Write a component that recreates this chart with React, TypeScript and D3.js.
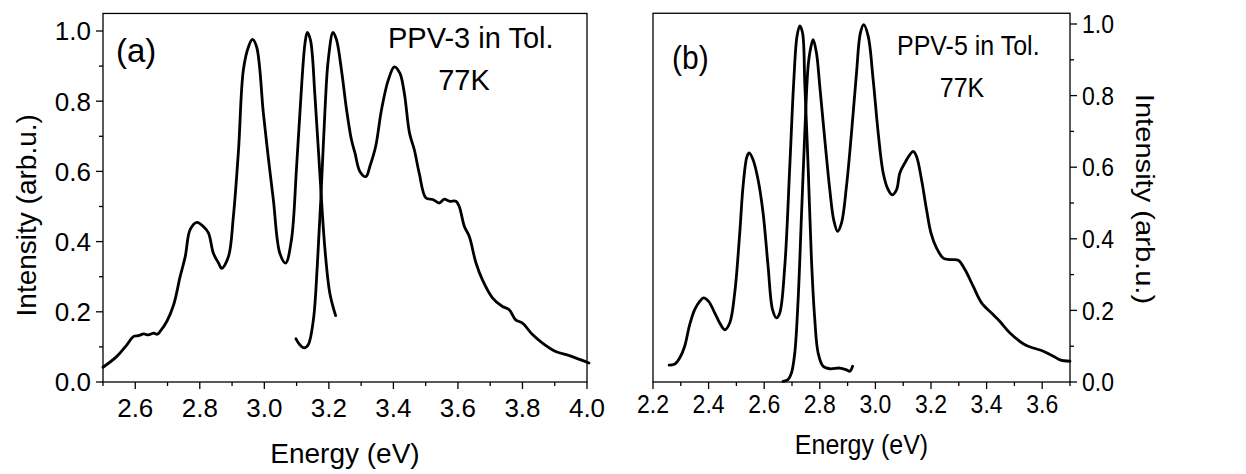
import React from "react";
import * as d3 from "d3";

// ---------- Panel (a): PPV-3 in Tol., 77K ----------
const a1Energy = [2.5, 2.543, 2.574, 2.595, 2.61, 2.626, 2.64, 2.657, 2.668, 2.677, 2.698, 2.719, 2.739, 2.755, 2.77, 2.791, 2.811, 2.827, 2.842, 2.858, 2.868, 2.889, 2.904, 2.92, 2.935, 2.951, 2.963, 2.976, 2.997, 3.012, 3.028, 3.048, 3.066, 3.084, 3.1, 3.116, 3.126, 3.133, 3.143, 3.157, 3.172, 3.188, 3.203, 3.221];
const a1Intensity = [0.042, 0.073, 0.106, 0.13, 0.132, 0.137, 0.134, 0.139, 0.136, 0.144, 0.173, 0.22, 0.3, 0.358, 0.434, 0.455, 0.443, 0.424, 0.367, 0.339, 0.324, 0.358, 0.471, 0.661, 0.889, 0.955, 0.976, 0.955, 0.766, 0.642, 0.519, 0.367, 0.339, 0.405, 0.614, 0.851, 0.965, 0.996, 0.974, 0.813, 0.595, 0.377, 0.253, 0.189];

const a2Energy = [3.098, 3.11, 3.123, 3.136, 3.152, 3.164, 3.175, 3.188, 3.198, 3.213, 3.224, 3.239, 3.255, 3.27, 3.281, 3.296, 3.315, 3.327, 3.345, 3.363, 3.384, 3.403, 3.42, 3.434, 3.45, 3.465, 3.48, 3.501, 3.522, 3.542, 3.558, 3.573, 3.594, 3.604, 3.62, 3.635, 3.656, 3.676, 3.707, 3.738, 3.759, 3.779, 3.8, 3.831, 3.862, 3.903, 3.945, 3.981, 4.006];
const a2Intensity = [0.123, 0.106, 0.097, 0.106, 0.177, 0.329, 0.519, 0.775, 0.917, 0.996, 0.974, 0.889, 0.775, 0.69, 0.652, 0.6, 0.585, 0.614, 0.671, 0.775, 0.86, 0.898, 0.88, 0.822, 0.709, 0.661, 0.595, 0.524, 0.52, 0.51, 0.521, 0.515, 0.515, 0.5, 0.443, 0.415, 0.339, 0.291, 0.24, 0.215, 0.206, 0.177, 0.168, 0.135, 0.111, 0.087, 0.075, 0.063, 0.054];

// ---------- Panel (b): PPV-5 in Tol., 77K ----------
const b1Energy = [2.258, 2.278, 2.296, 2.314, 2.332, 2.35, 2.368, 2.382, 2.4, 2.422, 2.44, 2.458, 2.476, 2.494, 2.512, 2.524, 2.538, 2.546, 2.56, 2.578, 2.596, 2.614, 2.63, 2.644, 2.656, 2.674, 2.692, 2.706, 2.718, 2.728, 2.738, 2.746, 2.758, 2.77, 2.782, 2.794, 2.812, 2.836, 2.872, 2.896, 2.908, 2.918];
const b1Intensity = [0.047, 0.05, 0.067, 0.1, 0.16, 0.202, 0.225, 0.235, 0.225, 0.193, 0.165, 0.146, 0.165, 0.249, 0.416, 0.547, 0.63, 0.64, 0.621, 0.565, 0.472, 0.323, 0.202, 0.179, 0.193, 0.323, 0.602, 0.835, 0.966, 0.995, 0.975, 0.835, 0.602, 0.342, 0.174, 0.081, 0.044, 0.037, 0.039, 0.034, 0.03, 0.044];

const b2Energy = [2.668, 2.686, 2.698, 2.71, 2.722, 2.734, 2.746, 2.758, 2.766, 2.776, 2.788, 2.8, 2.818, 2.836, 2.85, 2.864, 2.878, 2.896, 2.914, 2.932, 2.946, 2.958, 2.974, 2.992, 3.01, 3.028, 3.046, 3.06, 3.076, 3.088, 3.106, 3.124, 3.136, 3.148, 3.166, 3.184, 3.2, 3.22, 3.244, 3.268, 3.298, 3.322, 3.352, 3.382, 3.424, 3.448, 3.484, 3.538, 3.568, 3.604, 3.64, 3.664, 3.7];
const b2Intensity = [0.002, 0.007, 0.025, 0.081, 0.23, 0.463, 0.696, 0.882, 0.928, 0.956, 0.919, 0.826, 0.677, 0.537, 0.453, 0.421, 0.444, 0.547, 0.696, 0.863, 0.975, 0.998, 0.966, 0.844, 0.696, 0.584, 0.537, 0.523, 0.537, 0.584, 0.612, 0.635, 0.644, 0.63, 0.565, 0.481, 0.416, 0.374, 0.346, 0.342, 0.34, 0.314, 0.267, 0.221, 0.188, 0.169, 0.137, 0.104, 0.095, 0.086, 0.072, 0.062, 0.058];

// ---------- Ticks & labels ----------
const aXTicks = [2.6, 2.8, 3.0, 3.2, 3.4, 3.6, 3.8, 4.0];
const aXMinor = [2.5, 2.7, 2.9, 3.1, 3.3, 3.5, 3.7, 3.9];
const bXTicks = [2.2, 2.4, 2.6, 2.8, 3.0, 3.2, 3.4, 3.6];
const bXMinor = [2.3, 2.5, 2.7, 2.9, 3.1, 3.3, 3.5, 3.7];
const yTicks = [0, 0.2, 0.4, 0.6, 0.8, 1.0];
const yMinor = [0.1, 0.3, 0.5, 0.7, 0.9];

const xTitle = "Energy (eV)";
const yTitle = "Intensity (arb.u.)";
const aLabel = "(a)";
const bLabel = "(b)";
const aSample = ["PPV-3 in Tol.", "77K"];
const bSample = ["PPV-5 in Tol.", "77K"];

const FONT = "'Liberation Sans', Arial, sans-serif";

function makeLine(x: d3.ScaleLinear<number, number>, y: d3.ScaleLinear<number, number>, E: number[]) {
  return d3
    .line<number>()
    .x((_, i) => x(E[i]))
    .y((d) => y(d))
    .curve(d3.curveCatmullRom.alpha(0.5));
}

export default function App() {
  // panel a scales
  const xA = d3.scaleLinear().domain([2.5, 4.0]).range([103, 587]);
  const yA = d3.scaleLinear().domain([0, 1]).range([382, 31]);
  const topA = yA(1.05);
  // panel b scales
  const xB = d3.scaleLinear().domain([2.2, 3.7]).range([653, 1070]);
  const yB = d3.scaleLinear().domain([0, 1]).range([382, 24]);
  const topB = yB(1.03);

  const lw = 2.8;
  const fmt = d3.format(".1f");
  const sb = 1.12; // vertical stretch of panel b text

  return (
    <svg width={1246} height={474} style={{ display: "block", position: "absolute", left: 0, top: 0, background: "#fff" }} fontFamily={FONT}>
      {/* ---------- Panel A ---------- */}
      <g>
        <rect x={xA(2.5)} y={topA} width={xA(4.0) - xA(2.5)} height={yA(0) - topA} fill="none" stroke="#000" strokeWidth={1.3} />
        {aXTicks.map((t) => (
          <g key={"axt" + t}>
            <line x1={xA(t)} x2={xA(t)} y1={yA(0)} y2={yA(0) + 7} stroke="#000" strokeWidth={1.3} />
            <text x={xA(t)} y={417} fontSize={26} textAnchor="middle" fill="#000">{fmt(t)}</text>
          </g>
        ))}
        {aXMinor.map((t) => (
          <line key={"axm" + t} x1={xA(t)} x2={xA(t)} y1={yA(0)} y2={yA(0) + 4} stroke="#000" strokeWidth={1.3} />
        ))}
        {yTicks.map((t) => (
          <g key={"ayt" + t}>
            <line x1={xA(2.5) - 7} x2={xA(2.5)} y1={yA(t)} y2={yA(t)} stroke="#000" strokeWidth={1.3} />
            <text x={91} y={yA(t)} dy="0.36em" fontSize={26} textAnchor="end" fill="#000">{fmt(t)}</text>
          </g>
        ))}
        {yMinor.map((t) => (
          <line key={"aym" + t} x1={xA(2.5) - 4} x2={xA(2.5)} y1={yA(t)} y2={yA(t)} stroke="#000" strokeWidth={1.3} />
        ))}
        <text x={(xA(2.5) + xA(4.0)) / 2} y={463} fontSize={28} textAnchor="middle" fill="#000">{xTitle}</text>
        <text transform={`translate(36,${yA(0.475)}) rotate(-90)`} fontSize={28} textAnchor="middle" fill="#000">{yTitle}</text>
        <path d={makeLine(xA, yA, a1Energy)(a1Intensity) || ""} fill="none" stroke="#000" strokeWidth={lw} strokeLinejoin="round" strokeLinecap="round" />
        <path d={makeLine(xA, yA, a2Energy)(a2Intensity) || ""} fill="none" stroke="#000" strokeWidth={lw} strokeLinejoin="round" strokeLinecap="round" />
        <text x={116} y={62} fontSize={33} fill="#000">{aLabel}</text>
        <text x={388} y={48} fontSize={29} fill="#000">{aSample[0]}</text>
        <text x={464} y={90} fontSize={29} textAnchor="middle" fill="#000">{aSample[1]}</text>
      </g>

      {/* ---------- Panel B ---------- */}
      <g>
        <rect x={xB(2.2)} y={topB} width={xB(3.7) - xB(2.2)} height={yB(0) - topB} fill="none" stroke="#000" strokeWidth={1.3} />
        {bXTicks.map((t) => (
          <g key={"bxt" + t}>
            <line x1={xB(t)} x2={xB(t)} y1={yB(0)} y2={yB(0) + 7} stroke="#000" strokeWidth={1.3} />
            <text transform={`translate(${xB(t)},413) scale(1,${sb})`} fontSize={23} textAnchor="middle" fill="#000">{fmt(t)}</text>
          </g>
        ))}
        {bXMinor.map((t) => (
          <line key={"bxm" + t} x1={xB(t)} x2={xB(t)} y1={yB(0)} y2={yB(0) + 4} stroke="#000" strokeWidth={1.3} />
        ))}
        {yTicks.map((t) => (
          <g key={"byt" + t}>
            <line x1={xB(3.7)} x2={xB(3.7) + 7} y1={yB(t)} y2={yB(t)} stroke="#000" strokeWidth={1.3} />
            <text transform={`translate(1082,${yB(t)}) scale(1,${sb})`} dy="0.36em" fontSize={23} textAnchor="start" fill="#000">{fmt(t)}</text>
          </g>
        ))}
        {yMinor.map((t) => (
          <line key={"bym" + t} x1={xB(3.7)} x2={xB(3.7) + 4} y1={yB(t)} y2={yB(t)} stroke="#000" strokeWidth={1.3} />
        ))}
        <text transform={`translate(${(xB(2.2) + xB(3.7)) / 2},454) scale(1,${sb})`} fontSize={25} textAnchor="middle" fill="#000">{xTitle}</text>
        <text transform={`translate(1136,199) rotate(90) scale(${sb},1)`} fontSize={26} textAnchor="middle" fill="#000">{yTitle}</text>
        <path d={makeLine(xB, yB, b1Energy)(b1Intensity) || ""} fill="none" stroke="#000" strokeWidth={lw} strokeLinejoin="round" strokeLinecap="round" />
        <path d={makeLine(xB, yB, b2Energy)(b2Intensity) || ""} fill="none" stroke="#000" strokeWidth={lw} strokeLinejoin="round" strokeLinecap="round" />
        <text transform={`translate(672,69) scale(1,${sb})`} fontSize={30} fill="#000">{bLabel}</text>
        <text transform={`translate(897,55) scale(1,${sb})`} fontSize={25} fill="#000">{bSample[0]}</text>
        <text transform={`translate(962,97) scale(1,${sb})`} fontSize={25} textAnchor="middle" fill="#000">{bSample[1]}</text>
      </g>
    </svg>
  );
}
